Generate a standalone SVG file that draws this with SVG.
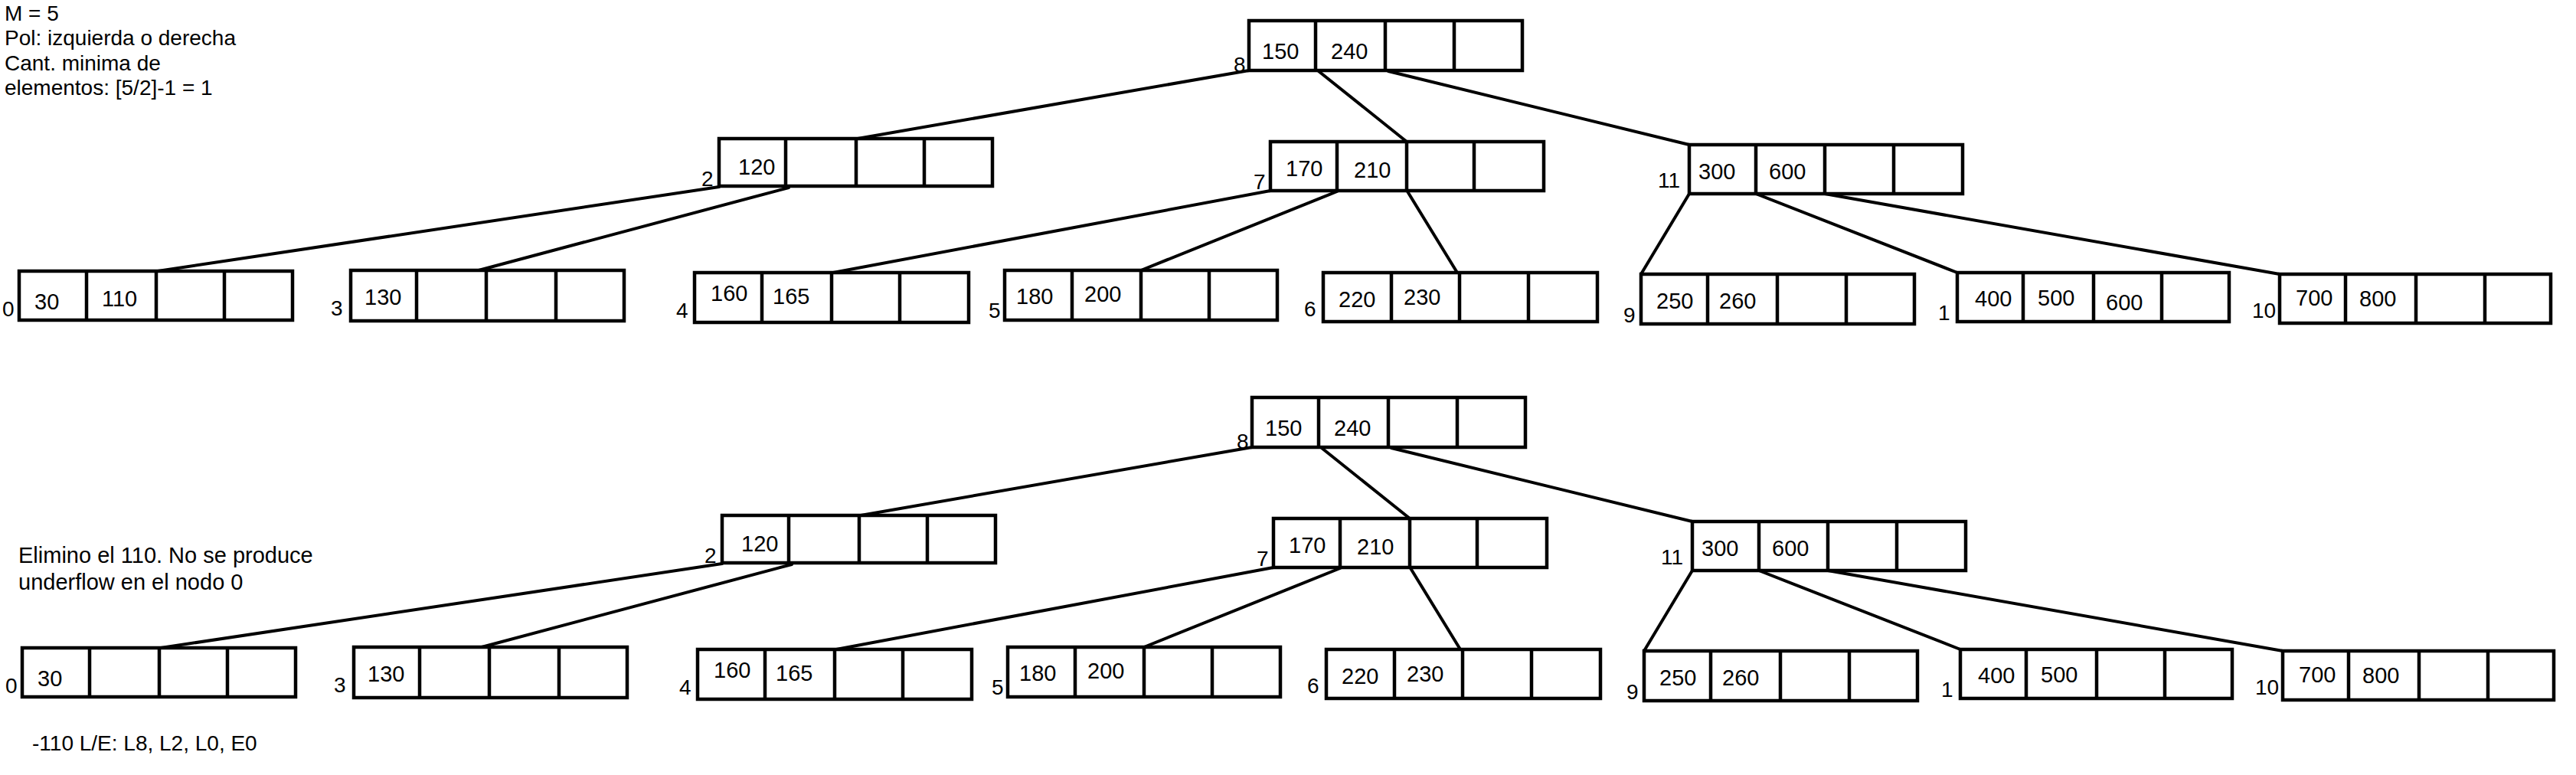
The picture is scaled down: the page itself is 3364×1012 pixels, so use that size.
<svg xmlns="http://www.w3.org/2000/svg" width="3364" height="1012" viewBox="0 0 3364 1012">
<style>
.box{fill:#fff;stroke:#000;stroke-width:4.5}
.dv{fill:none;stroke:#000;stroke-width:4.5}
.e{fill:none;stroke:#000;stroke-width:4;stroke-linecap:round}
text{font-family:"Liberation Sans",Arial,sans-serif;fill:#000}
.v{font-size:29px}
.l{font-size:28px}
.t{font-size:28px}
.n{font-size:29px}
</style>
<rect width="3364" height="1012" fill="#fff"/>
<g id="notes">
<text class="t" x="6" y="27">M = 5</text>
<text class="t" x="6" y="59">Pol: izquierda o derecha</text>
<text class="t" x="6" y="92">Cant. minima de</text>
<text class="t" x="6" y="124">elementos: [5/2]-1 = 1</text>
<text class="n" x="24" y="735">Elimino el 110. No se produce</text>
<text class="n" x="24" y="770">underflow en el nodo 0</text>
<text class="t" x="42" y="980">-110 L/E: L8, L2, L0, E0</text>
</g>
<g id="connectors">
<g id="edges-top">
<line class="e" x1="1631" y1="92" x2="1120" y2="181"/>
<line class="e" x1="1722" y1="93" x2="1837" y2="185"/>
<line class="e" x1="1813" y1="93" x2="2206" y2="189"/>
<line class="e" x1="939" y1="244" x2="206" y2="354"/>
<line class="e" x1="1030" y1="245" x2="625" y2="353"/>
<line class="e" x1="1659" y1="249" x2="1088" y2="356"/>
<line class="e" x1="1746" y1="250" x2="1490" y2="353"/>
<line class="e" x1="1838" y1="250" x2="1903" y2="356"/>
<line class="e" x1="2206" y1="253" x2="2143" y2="358"/>
<line class="e" x1="2293" y1="253" x2="2556" y2="356"/>
<line class="e" x1="2383" y1="253" x2="2977" y2="358"/>
</g>
<g id="edges-bottom" transform="translate(4,492)">
<line class="e" x1="1631" y1="92" x2="1120" y2="181"/>
<line class="e" x1="1722" y1="93" x2="1837" y2="185"/>
<line class="e" x1="1813" y1="93" x2="2206" y2="189"/>
<line class="e" x1="939" y1="244" x2="206" y2="354"/>
<line class="e" x1="1030" y1="245" x2="625" y2="353"/>
<line class="e" x1="1659" y1="249" x2="1088" y2="356"/>
<line class="e" x1="1746" y1="250" x2="1490" y2="353"/>
<line class="e" x1="1838" y1="250" x2="1903" y2="356"/>
<line class="e" x1="2206" y1="253" x2="2143" y2="358"/>
<line class="e" x1="2293" y1="253" x2="2556" y2="356"/>
<line class="e" x1="2383" y1="253" x2="2977" y2="358"/>
</g>
</g>
<g id="tree-top">
<g id="t-n8"><rect class="box" x="1631" y="27" width="357" height="65"/><path class="dv" d="M1718 27V92M1809 27V92M1899 27V92"/><text class="v" x="1648" y="77">150</text><text class="v" x="1738" y="77">240</text><text class="l" x="1611" y="94">8</text></g>
<g id="t-n2"><rect class="box" x="939" y="181" width="357" height="62"/><path class="dv" d="M1026 181V243M1118 181V243M1207 181V243"/><text class="v" x="964" y="228">120</text><text class="l" x="916" y="243">2</text></g>
<g id="t-n7"><rect class="box" x="1659" y="185" width="357" height="64"/><path class="dv" d="M1746 185V249M1837 185V249M1925 185V249"/><text class="v" x="1679" y="230">170</text><text class="v" x="1768" y="232">210</text><text class="l" x="1637" y="247">7</text></g>
<g id="t-n11"><rect class="box" x="2206" y="189" width="357" height="64"/><path class="dv" d="M2293 189V253M2383 189V253M2473 189V253"/><text class="v" x="2218" y="234">300</text><text class="v" x="2310" y="234">600</text><text class="l" x="2165" y="245">11</text></g>
<g id="t-n0"><rect class="box" x="25" y="354" width="357" height="64"/><path class="dv" d="M113 354V418M204 354V418M293 354V418"/><text class="v" x="45" y="404">30</text><text class="v" x="133" y="400">110</text><text class="l" x="3" y="413">0</text></g>
<g id="t-n3"><rect class="box" x="458" y="353" width="357" height="66"/><path class="dv" d="M544 353V419M635 353V419M726 353V419"/><text class="v" x="476" y="398">130</text><text class="l" x="432" y="412">3</text></g>
<g id="t-n4"><rect class="box" x="907" y="356" width="358" height="65"/><path class="dv" d="M995 356V421M1086 356V421M1175 356V421"/><text class="v" x="928" y="393">160</text><text class="v" x="1009" y="397">165</text><text class="l" x="883" y="415">4</text></g>
<g id="t-n5"><rect class="box" x="1312" y="353" width="356" height="65"/><path class="dv" d="M1400 353V418M1490 353V418M1579 353V418"/><text class="v" x="1327" y="397">180</text><text class="v" x="1416" y="394">200</text><text class="l" x="1291" y="415">5</text></g>
<g id="t-n6"><rect class="box" x="1728" y="356" width="358" height="64"/><path class="dv" d="M1817 356V420M1906 356V420M1996 356V420"/><text class="v" x="1748" y="401">220</text><text class="v" x="1833" y="398">230</text><text class="l" x="1703" y="413">6</text></g>
<g id="t-n9"><rect class="box" x="2143" y="358" width="357" height="65"/><path class="dv" d="M2230 358V423M2321 358V423M2411 358V423"/><text class="v" x="2163" y="403">250</text><text class="v" x="2245" y="403">260</text><text class="l" x="2120" y="421">9</text></g>
<g id="t-n1"><rect class="box" x="2556" y="356" width="355" height="64"/><path class="dv" d="M2642 356V420M2734 356V420M2823 356V420"/><text class="v" x="2579" y="400">400</text><text class="v" x="2661" y="399">500</text><text class="v" x="2750" y="405">600</text><text class="l" x="2531" y="418">1</text></g>
<g id="t-n10"><rect class="box" x="2977" y="358" width="354" height="64"/><path class="dv" d="M3063 358V422M3155 358V422M3245 358V422"/><text class="v" x="2998" y="399">700</text><text class="v" x="3081" y="400">800</text><text class="l" x="2941" y="415">10</text></g>
</g>
<g id="tree-bottom" transform="translate(4,492)">
<g id="b-n8"><rect class="box" x="1631" y="27" width="357" height="65"/><path class="dv" d="M1718 27V92M1809 27V92M1899 27V92"/><text class="v" x="1648" y="77">150</text><text class="v" x="1738" y="77">240</text><text class="l" x="1611" y="94">8</text></g>
<g id="b-n2"><rect class="box" x="939" y="181" width="357" height="62"/><path class="dv" d="M1026 181V243M1118 181V243M1207 181V243"/><text class="v" x="964" y="228">120</text><text class="l" x="916" y="243">2</text></g>
<g id="b-n7"><rect class="box" x="1659" y="185" width="357" height="64"/><path class="dv" d="M1746 185V249M1837 185V249M1925 185V249"/><text class="v" x="1679" y="230">170</text><text class="v" x="1768" y="232">210</text><text class="l" x="1637" y="247">7</text></g>
<g id="b-n11"><rect class="box" x="2206" y="189" width="357" height="64"/><path class="dv" d="M2293 189V253M2383 189V253M2473 189V253"/><text class="v" x="2218" y="234">300</text><text class="v" x="2310" y="234">600</text><text class="l" x="2165" y="245">11</text></g>
<g id="b-n0"><rect class="box" x="25" y="354" width="357" height="64"/><path class="dv" d="M113 354V418M204 354V418M293 354V418"/><text class="v" x="45" y="404">30</text><text class="l" x="3" y="413">0</text></g>
<g id="b-n3"><rect class="box" x="458" y="353" width="357" height="66"/><path class="dv" d="M544 353V419M635 353V419M726 353V419"/><text class="v" x="476" y="398">130</text><text class="l" x="432" y="412">3</text></g>
<g id="b-n4"><rect class="box" x="907" y="356" width="358" height="65"/><path class="dv" d="M995 356V421M1086 356V421M1175 356V421"/><text class="v" x="928" y="393">160</text><text class="v" x="1009" y="397">165</text><text class="l" x="883" y="415">4</text></g>
<g id="b-n5"><rect class="box" x="1312" y="353" width="356" height="65"/><path class="dv" d="M1400 353V418M1490 353V418M1579 353V418"/><text class="v" x="1327" y="397">180</text><text class="v" x="1416" y="394">200</text><text class="l" x="1291" y="415">5</text></g>
<g id="b-n6"><rect class="box" x="1728" y="356" width="358" height="64"/><path class="dv" d="M1817 356V420M1906 356V420M1996 356V420"/><text class="v" x="1748" y="401">220</text><text class="v" x="1833" y="398">230</text><text class="l" x="1703" y="413">6</text></g>
<g id="b-n9"><rect class="box" x="2143" y="358" width="357" height="65"/><path class="dv" d="M2230 358V423M2321 358V423M2411 358V423"/><text class="v" x="2163" y="403">250</text><text class="v" x="2245" y="403">260</text><text class="l" x="2120" y="421">9</text></g>
<g id="b-n1"><rect class="box" x="2556" y="356" width="355" height="64"/><path class="dv" d="M2642 356V420M2734 356V420M2823 356V420"/><text class="v" x="2579" y="400">400</text><text class="v" x="2661" y="399">500</text><text class="l" x="2531" y="418">1</text></g>
<g id="b-n10"><rect class="box" x="2977" y="358" width="354" height="64"/><path class="dv" d="M3063 358V422M3155 358V422M3245 358V422"/><text class="v" x="2998" y="399">700</text><text class="v" x="3081" y="400">800</text><text class="l" x="2941" y="415">10</text></g>
</g>
</svg>
